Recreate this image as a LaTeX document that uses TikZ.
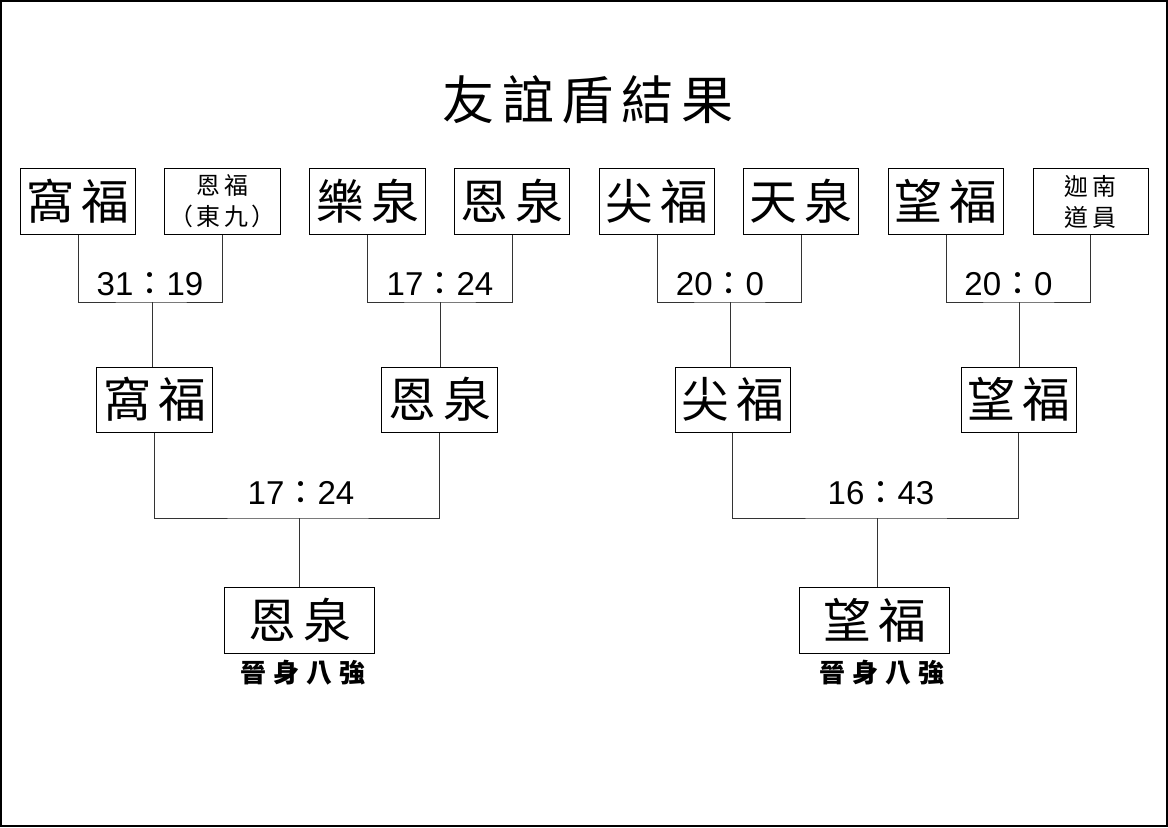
\documentclass[tikz,border=0pt]{standalone}
\usepackage{fontspec}
\setmainfont{Liberation Sans}
\newfontfamily\cjk{Noto Sans CJK TC}
\newfontfamily\cjkspaced[LetterSpace=15]{Noto Sans CJK TC}
\newfontfamily\cjkwide[LetterSpace=28]{Noto Sans CJK TC}

\tikzset{
    team/.style={draw, line width=0.7pt, inner sep=0pt, minimum width=2.875cm, minimum height=1.625cm,
        font=\cjkspaced\fontsize{34pt}{36pt}\selectfont},
    smallteam/.style={team, align=center, font=\cjkspaced\fontsize{17pt}{22pt}\selectfont},
    winner/.style={team, minimum width=3.75cm, minimum height=1.65cm},
    score/.style={anchor=base, inner sep=0pt, font=\fontsize{23.5pt}{25pt}\selectfont},
    bracket/.style={line width=0.7pt, draw=black!80},
    promo/.style={inner sep=0pt, font=\cjkwide\bfseries\fontsize{18.5pt}{20pt}\selectfont},
}

\begin{document}
\begin{tikzpicture}[x=0.025cm, y=-0.025cm]
    \useasboundingbox (0, 0) rectangle (1168, 827);
    \draw [line width=1.4pt] (1, 1) rectangle (1167, 826); % frame
    \node [font=\cjkspaced\fontsize{37pt}{40pt}\selectfont] (title) at (588, 100) {友誼盾結果};
    % first round
    \node [team] (a1) at (78, 201.5) {窩福};
    \node [smallteam] (a2) at (222.5, 201.5) {恩福\\（東九）};
    \node [team] (a3) at (367.5, 201.5) {樂泉};
    \node [team] (a4) at (512, 201.5) {恩泉};
    \node [team] (a5) at (657, 201.5) {尖福};
    \node [team] (a6) at (801, 201.5) {天泉};
    \node [team] (a7) at (946, 201.5) {望福};
    \node [smallteam] (a8) at (1090.5, 201.5) {迦南\\道員};
    \coordinate (j1) at (152, 302);
    \coordinate (j2) at (440, 302);
    \coordinate (j3) at (730, 302);
    \coordinate (j4) at (1019, 302);
    \node [score] (s1) at (150, 295) {31{\cjk ：}19};
    \node [score] (s2) at (440, 295) {17{\cjk ：}24};
    \node [score] (s3) at (720, 295) {20{\cjk ：}0};
    \node [score] (s4) at (1008.5, 295) {20{\cjk ：}0};
    % second round
    \node [team] (b1) at (154.5, 399.5) {窩福};
    \node [team] (b2) at (439.5, 399.5) {恩泉};
    \node [team] (b3) at (732.5, 399.5) {尖福};
    \node [team] (b4) at (1018.5, 399.5) {望福};
    \draw [bracket] (a1.south) |- (j1) -| (a2.south);
    \draw [bracket] (a3.south) |- (j2) -| (a4.south);
    \draw [bracket] (a5.south) |- (j3) -| (a6.south);
    \draw [bracket] (a7.south) |- (j4) -| (a8.south);
    \draw [bracket] (j1) -- (j1 |- b1.north);
    \draw [bracket] (j2) -- (j2 |- b2.north);
    \draw [bracket] (j3) -- (j3 |- b3.north);
    \draw [bracket] (j4) -- (j4 |- b4.north);
    \coordinate (k1) at (299, 518);
    \coordinate (k2) at (877, 518);
    \node [score] (s5) at (301, 504) {17{\cjk ：}24};
    \node [score] (s6) at (881, 504) {16{\cjk ：}43};
    % final eight
    \node [winner] (c1) at (299.5, 620) {恩泉};
    \node [winner] (c2) at (874.5, 620) {望福};
    \draw [bracket] (b1.south) |- (k1) -| (b2.south);
    \draw [bracket] (b3.south) |- (k2) -| (b4.south);
    \draw [bracket] (k1) -- (k1 |- c1.north);
    \draw [bracket] (k2) -- (k2 |- c2.north);
    \node [promo] (p1) at (303, 673) {晉身八強};
    \node [promo] (p2) at (882, 673) {晉身八強};
\end{tikzpicture}
\end{document}
